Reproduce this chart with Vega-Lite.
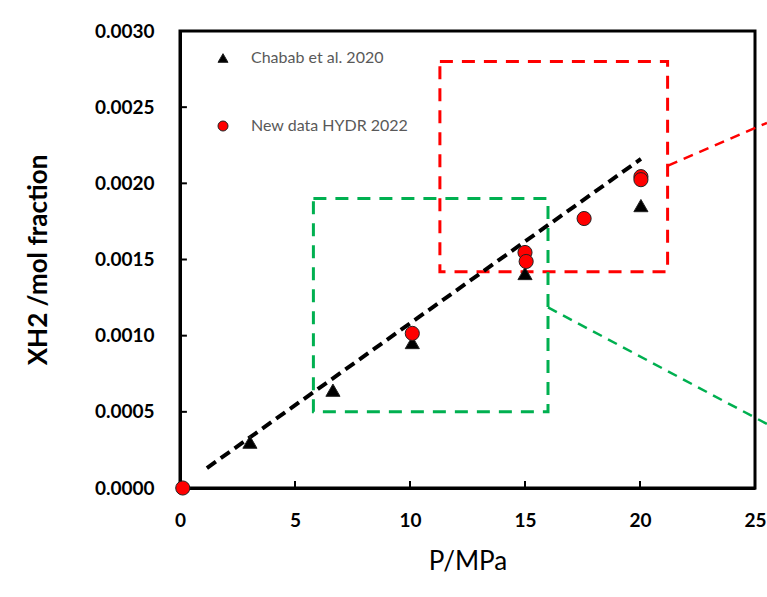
{
  "$schema": "https://vega.github.io/schema/vega-lite/v6.json",
  "width": 575,
  "height": 457,
  "autosize": {"type": "none"},
  "padding": {"left": 180, "top": 31, "right": 12, "bottom": 109},
  "background": "white",
  "config": {
    "font": "Lato",
    "view": {"stroke": "black", "strokeWidth": 3},
    "axis": {
      "grid": false,
      "domainColor": "black",
      "domainWidth": 3,
      "ticks": false,
      "labelFlush": false,
      "labelColor": "black",
      "labelFont": "Lato",
      "labelFontWeight": "bold",
      "labelFontSize": 19,
      "titleColor": "black",
      "titleFont": "Lato"
    }
  },
  "datasets": {
    "boxes": [
      {"box": "red", "x1": 11.3, "x2": 21.2, "y1": 0.00142, "y2": 0.0028},
      {"box": "green", "x1": 5.8, "x2": 16.0, "y1": 0.0005, "y2": 0.0019}
    ],
    "connectors": [
      {"box": "red", "x": 21.22, "y": 0.002116},
      {"box": "red", "x": 25.52, "y": 0.002397},
      {"box": "green", "x": 16.0, "y": 0.001186},
      {"box": "green", "x": 25.52, "y": 0.00042}
    ],
    "fit": [
      {"x": 1.17, "y": 0.000131},
      {"x": 20.04, "y": 0.00216}
    ],
    "xticks": [{"v": 5}, {"v": 10}, {"v": 15}, {"v": 20}],
    "yticks": [{"v": 0.0005}, {"v": 0.001}, {"v": 0.0015}, {"v": 0.002}, {"v": 0.0025}],
    "points": [
      {"series": "Chabab et al. 2020", "P": 3.04, "X": 0.000301},
      {"series": "Chabab et al. 2020", "P": 6.65, "X": 0.000642},
      {"series": "Chabab et al. 2020", "P": 10.1, "X": 0.000955},
      {"series": "Chabab et al. 2020", "P": 15.0, "X": 0.001408},
      {"series": "Chabab et al. 2020", "P": 20.04, "X": 0.001854},
      {"series": "New data HYDR 2022", "P": 0.12, "X": 0.0},
      {"series": "New data HYDR 2022", "P": 10.1, "X": 0.001015},
      {"series": "New data HYDR 2022", "P": 15.0, "X": 0.001546},
      {"series": "New data HYDR 2022", "P": 15.05, "X": 0.001487},
      {"series": "New data HYDR 2022", "P": 17.57, "X": 0.001769},
      {"series": "New data HYDR 2022", "P": 20.04, "X": 0.002044},
      {"series": "New data HYDR 2022", "P": 20.04, "X": 0.002024}
    ]
  },
  "layer": [
    {
      "data": {"name": "boxes"},
      "mark": {"type": "rect", "filled": false, "strokeWidth": 3, "strokeDash": [13, 9]},
      "encoding": {
        "x": {"field": "x1", "type": "quantitative", "scale": {"domain": [0, 25], "nice": false, "zero": false}},
        "x2": {"field": "x2"},
        "y": {"field": "y1", "type": "quantitative", "scale": {"domain": [0, 0.003], "nice": false, "zero": false}},
        "y2": {"field": "y2"},
        "stroke": {"field": "box", "type": "nominal", "scale": {"domain": ["red", "green"], "range": ["#FF0000", "#00B050"]}, "legend": null}
      }
    },
    {
      "data": {"name": "xticks"},
      "mark": {"type": "rule", "color": "black", "strokeWidth": 2},
      "encoding": {
        "x": {"field": "v", "type": "quantitative"},
        "y": {"datum": 0},
        "y2": {"datum": 0.000046}
      }
    },
    {
      "data": {"name": "yticks"},
      "mark": {"type": "rule", "color": "black", "strokeWidth": 2},
      "encoding": {
        "y": {"field": "v", "type": "quantitative"},
        "x": {"datum": 0},
        "x2": {"datum": 0.3}
      }
    },
    {
      "data": {"name": "connectors"},
      "mark": {"type": "line", "strokeWidth": 2.5, "strokeDash": [10, 7]},
      "encoding": {
        "x": {"field": "x", "type": "quantitative"},
        "y": {"field": "y", "type": "quantitative"},
        "detail": {"field": "box"},
        "stroke": {"field": "box", "type": "nominal", "legend": null}
      }
    },
    {
      "data": {"name": "fit"},
      "mark": {"type": "line", "color": "black", "strokeWidth": 4, "strokeDash": [11, 6]},
      "encoding": {
        "x": {"field": "x", "type": "quantitative"},
        "y": {"field": "y", "type": "quantitative"}
      }
    },
    {
      "data": {"name": "points"},
      "mark": {"type": "point", "filled": true, "size": 200, "opacity": 1, "stroke": "#222222", "strokeWidth": 1},
      "encoding": {
        "x": {
          "field": "P", "type": "quantitative",
          "axis": {"values": [0, 5, 10, 15, 20, 25], "title": "P/MPa", "titleFontSize": 26, "titleFontWeight": "normal", "labelPadding": 23, "titlePadding": 18}
        },
        "y": {
          "field": "X", "type": "quantitative",
          "axis": {"values": [0, 0.0005, 0.001, 0.0015, 0.002, 0.0025, 0.003], "format": ".4f", "title": "XH2 /mol fraction", "titleFontSize": 26, "titleFontWeight": "bold", "labelPadding": 26, "titlePadding": 43}
        },
        "color": {
          "field": "series", "type": "nominal",
          "scale": {"domain": ["Chabab et al. 2020", "New data HYDR 2022"], "range": ["black", "#FF0000"]},
          "legend": {"orient": "none", "legendX": 35, "legendY": 19, "title": null, "labelFontSize": 16, "labelColor": "#595959", "labelFont": "Lato", "rowPadding": 52, "symbolSize": 100, "labelOffset": 20, "symbolStrokeColor": "#222222", "symbolStrokeWidth": 1}
        },
        "shape": {
          "field": "series", "type": "nominal",
          "scale": {"domain": ["Chabab et al. 2020", "New data HYDR 2022"], "range": ["triangle-up", "circle"]}
        }
      }
    }
  ]
}
